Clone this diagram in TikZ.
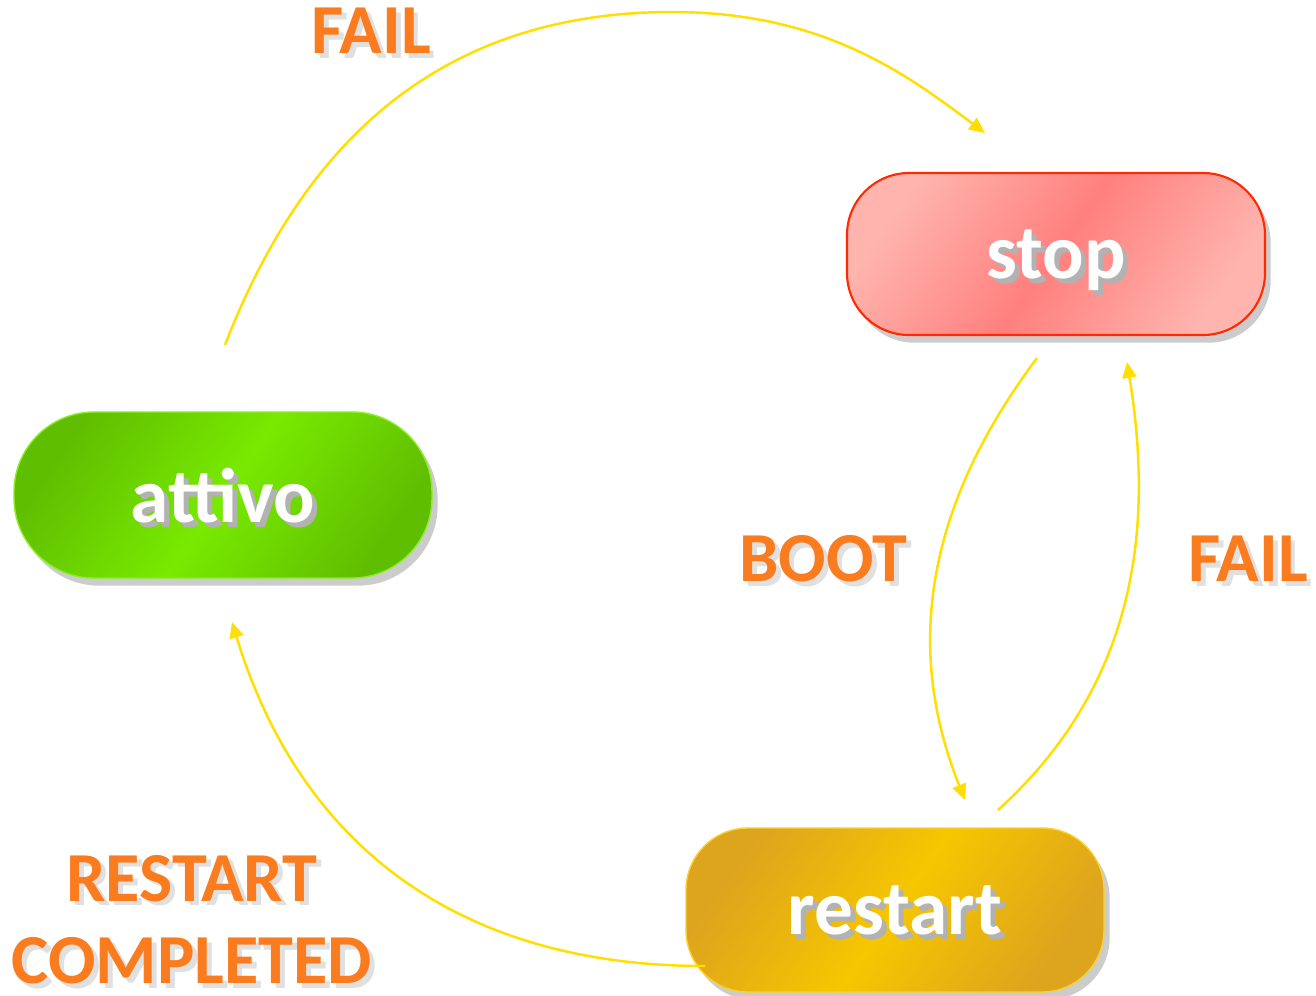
\documentclass[tikz,border=0pt]{standalone}
\usepackage{fontspec}
\setmainfont{Carlito}
\usetikzlibrary{arrows.meta,shadows}
\usepackage{xcolor}

\definecolor{evtorange}{RGB}{250,124,30}
\definecolor{arcyellow}{RGB}{255,222,0}
\definecolor{stopred}{RGB}{255,128,126}
\definecolor{stoplight}{RGB}{255,180,174}
\definecolor{stopedge}{RGB}{255,42,0}
\definecolor{attivogreen}{RGB}{120,234,0}
\definecolor{attivodark}{RGB}{96,190,0}
\definecolor{restartyellow}{RGB}{246,198,0}
\definecolor{restartdark}{RGB}{221,164,30}

% text with a soft grey shadow under it
\newcommand{\shtext}[2][black!30]{\rlap{\kern1.4pt\raisebox{-1.4pt}{\textcolor{#1}{#2}}}#2}

\begin{document}
\begin{tikzpicture}[auto]
\tikzstyle{state} = [rectangle, minimum width=4.18cm, text=white, text depth=0pt,
font=\fontsize{22}{26}\selectfont\bfseries,
drop shadow={shadow xshift=1.6pt, shadow yshift=-2.2pt, fill=black!50, opacity=.4}]
\tikzstyle{evt} = [text=evtorange, align=center, inner sep=0pt,
font=\fontsize{20}{23.5}\selectfont\bfseries]
\tikzstyle{trans} = [draw=arcyellow, line width=0.7pt,
-{Triangle[length=4.5pt,width=4pt]}]

\useasboundingbox (0,0) rectangle (13.16,-9.95);

% states
\node [state, minimum height=1.62cm, rounded corners=0.62cm,
draw=stopedge, line width=0.6pt,
left color=stoplight, right color=stoplight, middle color=stopred,
shading angle=55] (stop) at (10.56,-2.54) {\shtext{stop}};
\node [state, minimum height=1.66cm, rounded corners=0.8cm,
draw=attivogreen!85!white, line width=0.4pt,
left color=attivodark, right color=attivodark, middle color=attivogreen,
shading angle=55] (attivo) at (2.23,-4.95) {\shtext{attivo}};
\node [state, minimum height=1.64cm, rounded corners=0.62cm,
draw=restartyellow!80!white, line width=0.4pt,
left color=restartdark, right color=restartdark, middle color=restartyellow,
shading angle=55] (restart) at (8.95,-9.10) {\shtext{restart}};

% free ends of the arcs
\coordinate (failstart) at (2.25,-3.45);
\coordinate (failtop) at (6.72,-0.12);
\coordinate (failend) at (9.85,-1.33);
\coordinate (bootstart) at (10.37,-3.58);
\coordinate (bootend) at (9.65,-8.00);
\coordinate (backstart) at (9.98,-8.10);
\coordinate (backend) at (11.27,-3.62);
\coordinate (donestart) at (7.05,-9.66);
\coordinate (doneend) at (2.32,-6.22);

% transitions
\path [trans] (failstart) .. controls (2.97,-1.59) and (4.26,-0.12) .. (failtop)
.. controls (8.22,-0.12) and (9.05,-0.73) .. (failend);
\path [trans] (bootstart) .. controls (9.17,-5.18) and (9.09,-6.60) .. (bootend);
\path [trans] (backstart) .. controls (11.46,-6.76) and (11.51,-5.10) .. (backend);
\path [trans] (donestart) .. controls (4.55,-9.66) and (2.99,-8.42) .. (doneend);

% events
\node [evt] (failA) at (3.71,-0.33) {\shtext[black!12]{FAIL}};
\node [evt] (boot) at (8.23,-5.61) {\shtext[black!12]{BOOT}};
\node [evt] (failB) at (12.48,-5.61) {\shtext[black!12]{FAIL}};
\node [evt] (done) at (1.92,-9.22) {\shtext[black!12]{RESTART}\\\shtext[black!12]{COMPLETED}};

\end{tikzpicture}
\end{document}
